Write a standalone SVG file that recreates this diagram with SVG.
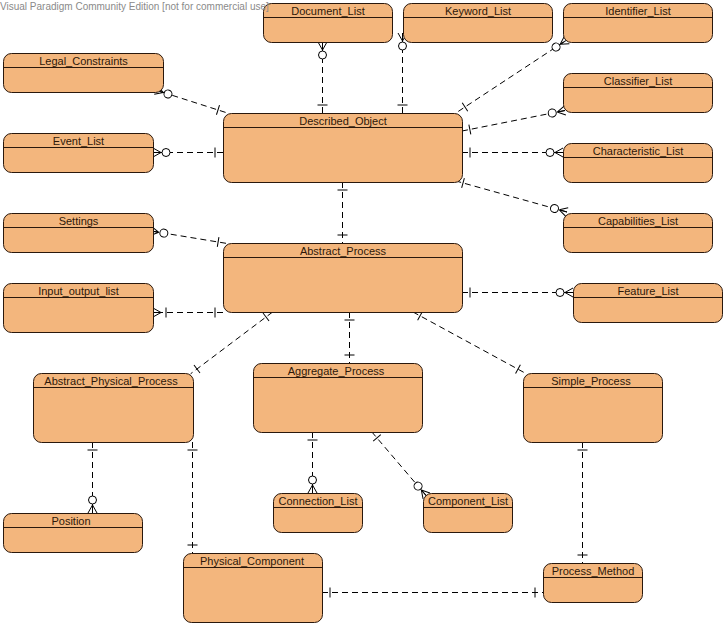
<svg xmlns="http://www.w3.org/2000/svg" width="726" height="635" viewBox="0 0 726 635">
<style>
.box{fill:#F3B67D;stroke:#2a180c;stroke-width:1}
.hd{stroke:#2a180c;stroke-width:1}
.lbl{font-family:"Liberation Sans",Arial,sans-serif;font-size:11px;fill:#2e1808;text-anchor:middle}
.wm{font-family:"Liberation Sans",Arial,sans-serif;font-size:10px;fill:#8a8a8a}
.c{fill:none;stroke:#000;stroke-width:1;stroke-dasharray:6,4}
.mk{fill:none;stroke:#000;stroke-width:1;stroke-dasharray:none}
</style>
<defs>
<marker id="zm" markerUnits="userSpaceOnUse" markerWidth="30" markerHeight="20" refX="20" refY="10" orient="auto-start-reverse" overflow="visible">
<path class="mk" d="M12,10 L20,5.5 M12,10 L20,10 M12,10 L20,14.5"/>
<circle cx="7" cy="10" r="4" fill="#fff" stroke="#000" stroke-width="1"/>
</marker>
<marker id="one" markerUnits="userSpaceOnUse" markerWidth="30" markerHeight="20" refX="20" refY="10" orient="auto-start-reverse" overflow="visible">
<path class="mk" d="M12,5 L12,15"/>
</marker>
<marker id="om" markerUnits="userSpaceOnUse" markerWidth="30" markerHeight="20" refX="20" refY="10" orient="auto-start-reverse" overflow="visible">
<path class="mk" d="M12,10 L20,5.5 M12,10 L20,10 M12,10 L20,14.5 M7,5 L7,15"/>
</marker>
</defs>
<rect width="726" height="635" fill="#fff"/>

<g id="connectors">
<path class="c" d="M322.5,113 L322.5,42" marker-start="url(#one)" marker-end="url(#zm)"/>
<path class="c" d="M402.5,113 L402.5,33" marker-start="url(#one)" marker-end="url(#zm)"/>
<path class="c" d="M458.3,111.4 L566.9,39.9" marker-start="url(#one)" marker-end="url(#zm)"/>
<path class="c" d="M462,131 L565,110.5" marker-start="url(#one)" marker-end="url(#zm)"/>
<path class="c" d="M462,152.5 L563,152.5" marker-start="url(#one)" marker-end="url(#zm)"/>
<path class="c" d="M455.3,180.8 L567,212" marker-start="url(#one)" marker-end="url(#zm)"/>
<path class="c" d="M225.6,112.4 L155.6,90" marker-start="url(#one)" marker-end="url(#zm)"/>
<path class="c" d="M223,152.5 L153,152.5" marker-start="url(#one)" marker-end="url(#zm)"/>
<path class="c" d="M226,243.3 L151,231" marker-start="url(#one)" marker-end="url(#zm)"/>
<path class="c" d="M223,312.5 L153,312.5" marker-start="url(#one)" marker-end="url(#om)"/>
<path class="c" d="M462,292.5 L573,292.5" marker-start="url(#one)" marker-end="url(#zm)"/>
<path class="c" d="M342.5,182 L342.5,243" marker-start="url(#one)" marker-end="url(#one)"/>
<path class="c" d="M272.4,312.2 L190.6,373.8" marker-start="url(#one)" marker-end="url(#one)"/>
<path class="c" d="M349.5,312 L349.5,363" marker-start="url(#one)" marker-end="url(#one)"/>
<path class="c" d="M413,312 L525,373" marker-start="url(#one)" marker-end="url(#one)"/>
<path class="c" d="M92.5,442 L92.5,513" marker-start="url(#one)" marker-end="url(#zm)"/>
<path class="c" d="M192.5,442 L192.5,553" marker-start="url(#one)" marker-end="url(#one)"/>
<path class="c" d="M312.5,432 L312.5,493" marker-start="url(#one)" marker-end="url(#zm)"/>
<path class="c" d="M371.8,431.9 L426.5,496" marker-start="url(#one)" marker-end="url(#zm)"/>
<path class="c" d="M582.5,442 L582.5,563" marker-start="url(#one)" marker-end="url(#one)"/>
<path class="c" d="M322,592.5 L543,592.5" marker-start="url(#one)" marker-end="url(#one)"/>
</g>

<g id="Document_List"><rect class="box" x="263.5" y="3.5" width="129" height="39" rx="8"/><line class="hd" x1="263.5" y1="17.5" x2="392.5" y2="17.5"/><text class="lbl" x="328" y="14.5">Document_List</text></g>
<g id="Keyword_List"><rect class="box" x="403.5" y="3.5" width="149" height="39" rx="8"/><line class="hd" x1="403.5" y1="17.5" x2="552.5" y2="17.5"/><text class="lbl" x="478" y="14.5">Keyword_List</text></g>
<g id="Identifier_List"><rect class="box" x="563.5" y="3.5" width="149" height="39" rx="8"/><line class="hd" x1="563.5" y1="17.5" x2="712.5" y2="17.5"/><text class="lbl" x="638" y="14.5">Identifier_List</text></g>
<g id="Legal_Constraints"><rect class="box" x="3.5" y="53.5" width="160" height="39" rx="8"/><line class="hd" x1="3.5" y1="67.5" x2="163.5" y2="67.5"/><text class="lbl" x="83.5" y="64.5">Legal_Constraints</text></g>
<g id="Classifier_List"><rect class="box" x="563.5" y="73.5" width="149" height="39" rx="8"/><line class="hd" x1="563.5" y1="87.5" x2="712.5" y2="87.5"/><text class="lbl" x="638" y="84.5">Classifier_List</text></g>
<g id="Described_Object"><rect class="box" x="223.5" y="113.5" width="239" height="69" rx="8"/><line class="hd" x1="223.5" y1="127.5" x2="462.5" y2="127.5"/><text class="lbl" x="343" y="124.5">Described_Object</text></g>
<g id="Event_List"><rect class="box" x="3.5" y="133.5" width="150" height="39" rx="8"/><line class="hd" x1="3.5" y1="147.5" x2="153.5" y2="147.5"/><text class="lbl" x="78.5" y="144.5">Event_List</text></g>
<g id="Characteristic_List"><rect class="box" x="563.5" y="143.5" width="149" height="39" rx="8"/><line class="hd" x1="563.5" y1="157.5" x2="712.5" y2="157.5"/><text class="lbl" x="638" y="154.5">Characteristic_List</text></g>
<g id="Settings"><rect class="box" x="3.5" y="213.5" width="150" height="39" rx="8"/><line class="hd" x1="3.5" y1="227.5" x2="153.5" y2="227.5"/><text class="lbl" x="78.5" y="224.5">Settings</text></g>
<g id="Capabilities_List"><rect class="box" x="563.5" y="213.5" width="149" height="39" rx="8"/><line class="hd" x1="563.5" y1="227.5" x2="712.5" y2="227.5"/><text class="lbl" x="638" y="224.5">Capabilities_List</text></g>
<g id="Abstract_Process"><rect class="box" x="223.5" y="243.5" width="239" height="69" rx="8"/><line class="hd" x1="223.5" y1="257.5" x2="462.5" y2="257.5"/><text class="lbl" x="343" y="254.5">Abstract_Process</text></g>
<g id="Input_output_list"><rect class="box" x="3.5" y="283.5" width="150" height="49" rx="8"/><line class="hd" x1="3.5" y1="297.5" x2="153.5" y2="297.5"/><text class="lbl" x="78.5" y="294.5">Input_output_list</text></g>
<g id="Feature_List"><rect class="box" x="573.5" y="283.5" width="149" height="39" rx="8"/><line class="hd" x1="573.5" y1="297.5" x2="722.5" y2="297.5"/><text class="lbl" x="648" y="294.5">Feature_List</text></g>
<g id="Abstract_Physical_Process"><rect class="box" x="33.5" y="373.5" width="160" height="69" rx="8"/><line class="hd" x1="33.5" y1="387.5" x2="193.5" y2="387.5"/><text class="lbl" x="111" y="384.5">Abstract_Physical_Process</text></g>
<g id="Aggregate_Process"><rect class="box" x="253.5" y="363.5" width="169" height="69" rx="8"/><line class="hd" x1="253.5" y1="377.5" x2="422.5" y2="377.5"/><text class="lbl" x="336" y="374.5">Aggregate_Process</text></g>
<g id="Simple_Process"><rect class="box" x="523.5" y="373.5" width="139" height="69" rx="8"/><line class="hd" x1="523.5" y1="387.5" x2="662.5" y2="387.5"/><text class="lbl" x="591" y="384.5">Simple_Process</text></g>
<g id="Connection_List"><rect class="box" x="273.5" y="493.5" width="89" height="39" rx="8"/><line class="hd" x1="273.5" y1="507.5" x2="362.5" y2="507.5"/><text class="lbl" x="318" y="504.5">Connection_List</text></g>
<g id="Component_List"><rect class="box" x="423.5" y="493.5" width="89" height="39" rx="8"/><line class="hd" x1="423.5" y1="507.5" x2="512.5" y2="507.5"/><text class="lbl" x="468" y="504.5">Component_List</text></g>
<g id="Position"><rect class="box" x="3.5" y="513.5" width="139" height="39" rx="8"/><line class="hd" x1="3.5" y1="527.5" x2="142.5" y2="527.5"/><text class="lbl" x="71" y="524.5">Position</text></g>
<g id="Physical_Component"><rect class="box" x="183.5" y="553.5" width="139" height="69" rx="8"/><line class="hd" x1="183.5" y1="567.5" x2="322.5" y2="567.5"/><text class="lbl" x="252" y="564.5">Physical_Component</text></g>
<g id="Process_Method"><rect class="box" x="543.5" y="563.5" width="99" height="39" rx="8"/><line class="hd" x1="543.5" y1="577.5" x2="642.5" y2="577.5"/><text class="lbl" x="593" y="574.5">Process_Method</text></g>

<text class="wm" x="0" y="10">Visual Paradigm Community Edition [not for commercial use]</text>
</svg>
